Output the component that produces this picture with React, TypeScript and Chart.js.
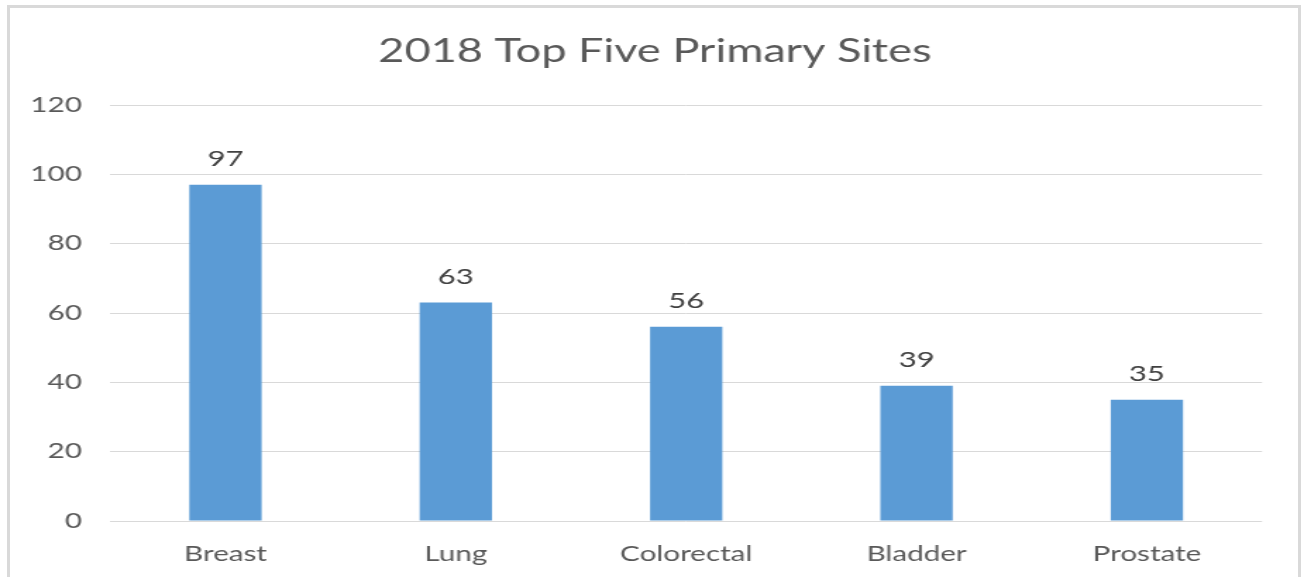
import { useEffect, useRef } from 'react';
import { Chart, registerables } from 'chart.js';

Chart.register(...registerables);

const categories = ['Breast', 'Lung', 'Colorectal', 'Bladder', 'Prostate'];
const values = [97, 63, 56, 39, 35];
const yTicks = [0, 20, 40, 60, 80, 100, 120];
const titleText = '2018 Top Five Primary Sites';

const STRETCH = 1.41;
const CSS_W = 1304;
const CSS_H = 577;
const W = Math.round(CSS_W / STRETCH);
const FONT = 'Lato, "Open Sans", sans-serif';

const PLOT_LEFT = 110.3 / STRETCH;
const PLOT_RIGHT = 1262.3 / STRETCH;

const labelPlugin = {
  id: 'barLabelsAndTitle',
  afterDatasetsDraw(chart: any) {
    const ctx = chart.ctx;
    const meta = chart.getDatasetMeta(0);
    ctx.save();
    ctx.font = `22px ${FONT}`;
    ctx.fillStyle = '#404040';
    ctx.textAlign = 'center';
    ctx.textBaseline = 'alphabetic';
    meta.data.forEach((bar: any, i: number) => {
      ctx.fillText(String(values[i]), bar.x, bar.y - 19);
    });
    ctx.font = `32px ${FONT}`;
    ctx.fillStyle = '#595959';
    ctx.fillText(titleText, 655 / STRETCH, 61.7);
    ctx.restore();
  },
};

export default function App() {
  const ref = useRef<HTMLCanvasElement>(null);

  useEffect(() => {
    document.body.style.margin = '0';
    const canvas = ref.current;
    if (!canvas) return;
    const chart = new Chart(canvas, {
      type: 'bar',
      data: {
        labels: categories,
        datasets: [
          {
            data: values,
            backgroundColor: '#5b9bd5',
            borderWidth: 0,
            barPercentage: 0.314,
            categoryPercentage: 1,
          },
        ],
      },
      options: {
        responsive: false,
        animation: false,
        devicePixelRatio: 1,
        layout: {
          padding: { left: 0, right: W - PLOT_RIGHT, top: 105, bottom: 0 },
        },
        plugins: {
          legend: { display: false },
          tooltip: { enabled: false },
          title: { display: false },
        },
        scales: {
          x: {
            grid: { display: false },
            border: { display: false },
            ticks: {
              font: { family: FONT, size: 21 },
              color: '#595959',
              padding: 13,
              maxRotation: 0,
            },
            afterFit: (s: any) => {
              s.height = 56;
            },
          },
          y: {
            min: 0,
            max: 120,
            grid: { color: '#d9d9d9', drawTicks: false, lineWidth: 1 },
            border: { display: false },
            ticks: {
              font: { family: FONT, size: 21 },
              color: '#595959',
              padding: 28.3 / STRETCH,
            },
            afterBuildTicks: (axis: any) => {
              axis.ticks = yTicks.map((v) => ({ value: v }));
            },
            afterFit: (s: any) => {
              s.width = PLOT_LEFT;
            },
          },
        },
      },
      plugins: [labelPlugin],
    });
    return () => chart.destroy();
  }, []);

  return (
    <div
      style={{
        position: 'absolute',
        left: 0,
        top: 0,
        width: CSS_W,
        height: CSS_H,
        background: '#ffffff',
        overflow: 'hidden',
      }}
    >
      <div
        style={{
          position: 'absolute',
          left: 7,
          top: 5,
          width: 1288,
          height: 620,
          border: '3px solid #d9d9d9',
        }}
      />
      <canvas
        ref={ref}
        width={W}
        height={CSS_H}
        style={{
          position: 'absolute',
          left: 0,
          top: 0,
          width: CSS_W + 'px',
          height: CSS_H + 'px',
        }}
      />
    </div>
  );
}
